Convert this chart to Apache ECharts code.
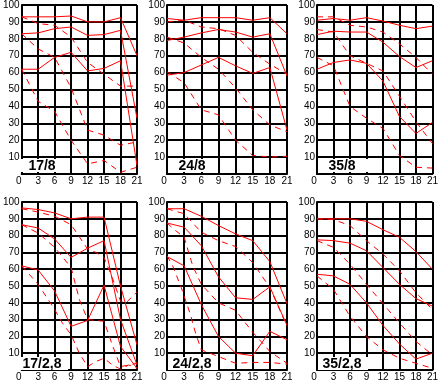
<!DOCTYPE html>
<html><head><meta charset="utf-8">
<script src="https://cdn.jsdelivr.net/npm/echarts@6/dist/echarts.min.js"></script>
<style>html,body{margin:0;padding:0;background:#fff}#c{width:441px;height:382px}</style>
</head><body><div id="c"></div>
<script>
// Axis definition
const xMin = 0, xMax = 21, xStep = 3;
const yMin = 0, yMax = 100, yStep = 10;

const panelTitles = ['17/8', '24/8', '35/8', '17/2,8', '24/2,8', '35/2,8'];

// [position, value] pairs for each curve; solid and dashed families per panel
const solid_17_8 = [
  [[0,93],[3,93],[6,93],[9,93.5],[12,90],[15,90],[18,92.5],[21,70]],
  [[0,83],[3,83.5],[6,86],[9,87],[12,82],[15,82.5],[18,85],[21,33]],
  [[0,62],[3,62],[6,69],[9,72],[12,61],[15,62.5],[18,67],[21,5]]
];
const dashed_17_8 = [
  [[0,93],[3,89],[6,88],[9,81],[12,66],[15,59],[18,52],[21,52]],
  [[0,83],[3,74],[6,69],[9,51],[12,26],[15,23],[18,17],[21,19]],
  [[0,62],[3,43],[6,37],[9,20],[12,6],[15,8],[18,1],[21,4]]
];
const solid_24_8 = [
  [[0,92],[3,91],[6,92.5],[9,92.5],[12,92.5],[15,91],[18,92.5],[21,83]],
  [[0,79],[3,81],[6,83.5],[9,85.5],[12,84],[15,81],[18,83],[21,58]],
  [[0,58.5],[3,60],[6,64.5],[9,69],[12,64],[15,59.5],[18,63],[21,26]]
];
const dashed_24_8 = [
  [[0,90],[3,91],[6,87],[9,86],[12,82],[15,72],[18,65],[21,59]],
  [[0,81],[3,77.5],[6,69],[9,62],[12,51],[15,38],[18,29],[21,25]],
  [[0,60.5],[3,54],[6,38],[9,35],[12,20],[15,11],[18,10],[21,10.5]]
];
const solid_35_8 = [
  [[0,91],[3,92],[6,91],[9,92.5],[12,90.5],[15,88],[18,86],[21,87.5]],
  [[0,82.5],[3,84.5],[6,84],[9,84],[12,78],[15,69.5],[18,63],[21,67]],
  [[0,62],[3,66],[6,67.5],[9,65.5],[12,55],[15,34],[18,24],[21,30.5]]
];
const dashed_35_8 = [
  [[0,93],[3,93],[6,88],[9,87],[12,84],[15,77],[18,69],[21,59]],
  [[0,85.5],[3,84],[6,70],[9,65.5],[12,61],[15,46],[18,31],[21,18]],
  [[0,69],[3,64],[6,40],[9,33],[12,27],[15,11],[18,4],[21,3.5]]
];
const solid_17_28 = [
  [[0,96.5],[3,95.5],[6,93.5],[9,90],[12,91],[15,91],[18,50],[21,15]],
  [[0,86.5],[3,84.5],[6,78],[9,67],[12,72.5],[15,77],[18,30],[21,3]],
  [[0,62],[3,59.5],[6,47],[9,26],[12,29.5],[15,50.5],[18,14],[21,1]]
];
const dashed_17_28 = [
  [[0,96],[3,94],[6,91.5],[9,86.5],[12,72],[13.5,70],[15,67],[16.5,55],[18,41],[19,40],[21,46.5]],
  [[0,86.5],[3,81.5],[6,73],[9,61],[10.5,42],[12,30],[15,29],[16.5,15],[18,2],[21,4]],
  [[0,62],[3,51],[6,36],[7.5,27.5],[9,21],[10.5,10],[12,2],[13.5,5],[15,7],[16.5,3],[18,0.5],[19.5,3],[21,1]]
];
const solid_24_28 = [
  [[0,96],[3,96],[6,91.5],[9,86],[12,81],[15,77],[18,64.5],[21,39.5]],
  [[0,87.5],[3,85],[6,74],[9,55.5],[12,43],[15,42],[18,49.5],[21,26.5]],
  [[0,67.5],[3,62],[6,39],[9,20],[12,10],[15,8.5],[18,23],[21,18]]
];
const dashed_24_28 = [
  [[0,96],[1.5,94.5],[3,93],[6,82],[9,77],[12,73.5],[15,64],[18,49],[21,26]],
  [[0,87.5],[1.5,83],[3,79],[4.5,62],[6,51],[9,40],[12,35.5],[15,22.5],[18,11],[21,4]],
  [[0,68],[1,62],[2.5,49],[4,34],[5,22],[6,12],[9,8],[12,4],[15,4.5],[18,4.5],[21,3.5]]
];
const solid_35_28 = [
  [[0,90],[3,90],[6,90],[9,88.5],[12,83.5],[15,79],[18,70.5],[21,60]],
  [[0,77.5],[3,77],[6,75.5],[9,71],[12,61],[15,51],[18,42.5],[21,38]],
  [[0,57],[3,56],[6,51],[9,40],[12,26.5],[15,15.5],[18,6.5],[21,10]]
];
const dashed_35_28 = [
  [[0,90],[3,89.5],[6,86],[9,77],[12,69],[15,59],[18,46],[21,36]],
  [[0,77],[3,73],[6,63],[9,51],[12,39.5],[15,28],[18,17],[21,9]],
  [[0,56],[3,48],[6,32],[9,20],[12,12],[15,7],[18,4],[21,1]]
];

const solidSets = [solid_17_8, solid_24_8, solid_35_8, solid_17_28, solid_24_28, solid_35_28];
const dashedSets = [dashed_17_8, dashed_24_8, dashed_35_8, dashed_17_28, dashed_24_28, dashed_35_28];

// Layout
const FONT = '"Liberation Sans", Arial, Helvetica, sans-serif';
const lefts = [17, 167, 317];
const tops = [4, 202];
const W = 120, H = 170;
const RED = '#ff0000';

const grids = [], xAxes = [], yAxes = [], series = [], graphics = [];
panelTitles.forEach((title, i) => {
  const left = lefts[i % 3], top = tops[Math.floor(i / 3)];
  grids.push({ left: left, top: top, width: W, height: H, containLabel: false });
  xAxes.push({
    type: 'value', gridIndex: i, min: xMin, max: xMax, interval: xStep,
    axisLine: { show: true, lineStyle: { color: '#000', width: 2 } },
    axisTick: { show: false },
    splitLine: { show: true, lineStyle: { color: '#000', width: 2 } },
    axisLabel: {
      margin: 2, fontSize: 10, color: '#000', fontFamily: FONT,
      formatter: v => v === 0 ? '{z|0}' : String(v),
      rich: { z: { fontSize: 10, color: '#000', fontFamily: FONT, padding: [0, 6, 0, 0] } }
    }
  });
  yAxes.push({
    type: 'value', gridIndex: i, min: yMin, max: yMax, interval: yStep,
    axisLine: { show: true, lineStyle: { color: '#000', width: 2 } },
    axisTick: { show: false },
    splitLine: { show: true, lineStyle: { color: '#000', width: 2 } },
    axisLabel: {
      margin: 2, fontSize: 10, color: '#000', fontFamily: FONT,
      formatter: v => v === 0 ? '' : String(v)
    }
  });
  solidSets[i].forEach(d => series.push({
    type: 'line', xAxisIndex: i, yAxisIndex: i, data: d, symbol: 'none',
    lineStyle: { color: RED, width: 1, type: 'solid' }, silent: true, z: 3
  }));
  dashedSets[i].forEach(d => series.push({
    type: 'line', xAxisIndex: i, yAxisIndex: i, data: d, symbol: 'none',
    lineStyle: { color: RED, width: 1, type: [6, 5] }, silent: true, z: 3
  }));
  const bottom = top + H;
  graphics.push({
    type: 'rect', shape: { x: left + 1, y: bottom - 15, width: 50, height: 13 },
    style: { fill: '#fff' }, z: 100, silent: true
  });
  graphics.push({
    type: 'text', x: left + 25, y: bottom - 8, z: 101, silent: true,
    style: { text: title, font: 'bold 14px ' + FONT, fill: '#000', align: 'center', verticalAlign: 'middle' }
  });
});

const chart = echarts.init(document.getElementById('c'), null, { renderer: 'canvas' });
chart.setOption({
  animation: false,
  backgroundColor: '#fff',
  grid: grids, xAxis: xAxes, yAxis: yAxes, series: series, graphic: graphics
});
</script>
</body></html>
